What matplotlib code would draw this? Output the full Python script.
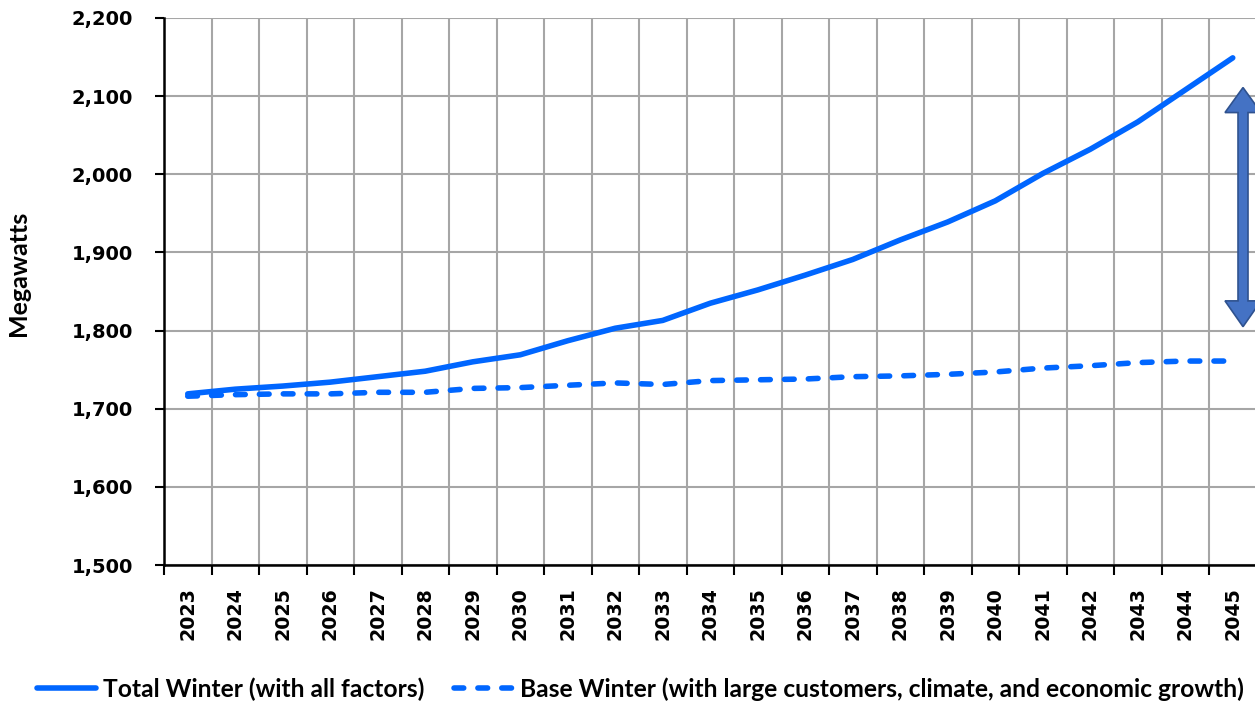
import matplotlib
matplotlib.use("Agg")
import matplotlib.pyplot as plt
from matplotlib.patches import Polygon
from matplotlib.ticker import FuncFormatter, FixedLocator
import numpy as np

years = [str(y) for y in range(2023, 2046)]
total_winter = [1719, 1725, 1729, 1734, 1741, 1748, 1760, 1769, 1787, 1803, 1813,
                1835, 1852, 1871, 1891, 1916, 1939, 1966, 2001, 2032, 2067, 2108, 2149]
base_winter = [1716, 1718, 1719, 1719, 1721, 1721, 1726, 1727, 1730, 1733, 1731,
               1736, 1737, 1738, 1741, 1742, 1744, 1747, 1752, 1755, 1759, 1761, 1761]
series_names = ["Total Winter (with all factors)",
                "Base Winter (with large customers, climate, and economic growth)"]
y_label = "Megawatts"

LINE_COLOR = "#0066FF"
GRID_COLOR = "#A6A6A6"

plt.rcParams["font.weight"] = "bold"
plt.rcParams["font.family"] = ["DejaVu Sans"]

fig = plt.figure(figsize=(12.55, 7.04), dpi=100)
ax = fig.add_axes([164 / 1255, 1 - 565 / 704, (1256.5 - 164) / 1255, (565 - 18) / 704])

x = np.arange(len(years))
l1, = ax.plot(x, total_winter, color=LINE_COLOR, lw=4.0, solid_capstyle="round",
              solid_joinstyle="round", label=series_names[0], zorder=3)
l2, = ax.plot(x, base_winter, color=LINE_COLOR, lw=4.0, dash_capstyle="round",
              label=series_names[1], zorder=3)
l2.set_dashes((1.75, 2.55))

ax.set_xlim(-0.5, len(years) - 0.5)
ax.set_ylim(1500, 2200)
ax.set_yticks(np.arange(1500, 2201, 100))
ax.yaxis.set_major_formatter(FuncFormatter(lambda v, p: f"{int(v):,}"))

# category boundaries as major (grid + ticks), labels at category centers as minor
ax.xaxis.set_major_locator(FixedLocator(np.arange(-0.5, len(years), 1.0)))
ax.xaxis.set_major_formatter(FuncFormatter(lambda v, p: ""))
ax.set_xticks(x, minor=True)
ax.set_xticklabels(years, minor=True, rotation=90, fontsize=13.7, fontweight="bold",
                   family="DejaVu Sans", va="top")
ax.tick_params(axis="x", which="minor", length=0, pad=16)
ax.tick_params(axis="x", which="major", length=7, width=1.5, direction="out", color="black")
ax.tick_params(axis="y", length=6.5, width=1.5, direction="out", pad=16)
for lab in ax.get_yticklabels():
    lab.set_fontsize(14)
    lab.set_fontweight("bold")
    lab.set_family("DejaVu Sans")

ax.grid(True, which="major", color=GRID_COLOR, lw=1.5, zorder=0)
ax.set_axisbelow(True)
for s in ["top", "right"]:
    ax.spines[s].set_visible(False)
for s in ["left", "bottom"]:
    ax.spines[s].set_linewidth(1.8)
    ax.spines[s].set_color("black")
    ax.spines[s].set_zorder(4)

fig.text(19 / 1255, 1 - 273 / 704, y_label, rotation=90, ha="center", va="center",
         fontsize=18, fontweight="bold", family="Lato")

# block double arrow annotation near the end of the series
cx, hh, sh = 22.216, 0.379, 0.105
top, top_b, bot_b, bot = 2111, 2079, 1838, 1805
verts = [(cx, top), (cx + hh, top_b), (cx + sh, top_b), (cx + sh, bot_b), (cx + hh, bot_b),
         (cx, bot), (cx - hh, bot_b), (cx - sh, bot_b), (cx - sh, top_b), (cx - hh, top_b)]
ax.add_patch(Polygon(verts, closed=True, facecolor="#4472C4", edgecolor="#2F528F",
                     lw=1.2, zorder=5, clip_on=False))

leg = fig.legend(handles=[l1, l2], loc="center left", bbox_to_anchor=(36.5 / 1255, 1 - 689 / 704),
                 ncol=2, frameon=False, handlelength=2.4, handletextpad=0.3,
                 columnspacing=1.2, borderaxespad=0, borderpad=0,
                 prop={"family": "Lato", "weight": "bold", "size": 17.7})

fig.savefig("out.png", dpi=100)
